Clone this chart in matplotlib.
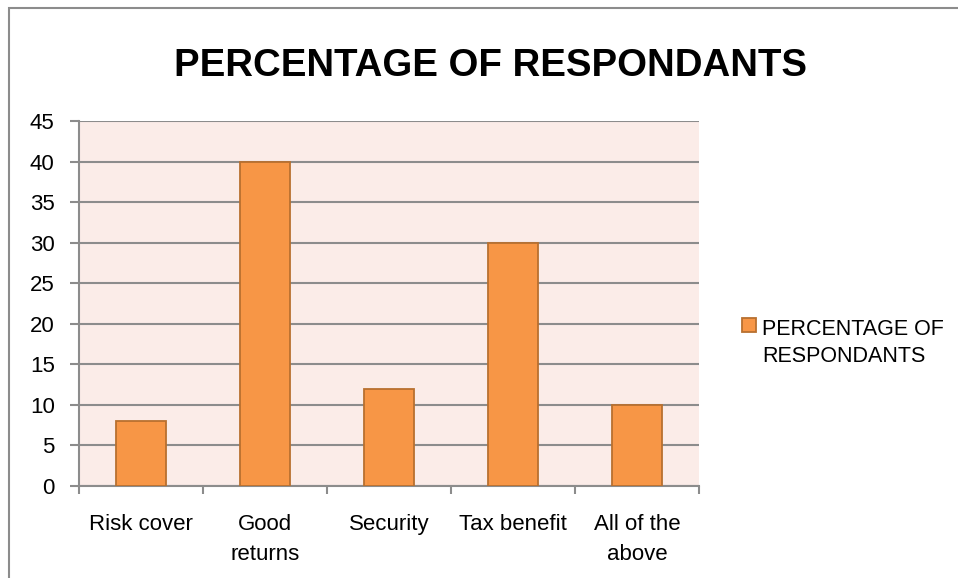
import matplotlib
matplotlib.use("Agg")
import matplotlib.pyplot as plt
from matplotlib.patches import Rectangle, Patch
from matplotlib.legend_handler import HandlerPatch

categories = ["Risk cover", "Good\nreturns", "Security", "Tax benefit", "All of the\nabove"]
values = [8, 40, 12, 30, 10]
series_name = "PERCENTAGE OF\nRESPONDANTS"
title = "PERCENTAGE OF RESPONDANTS"
yticks = [0, 5, 10, 15, 20, 25, 30, 35, 40, 45]

W, H = 958, 578
fig = plt.figure(figsize=(W / 100, H / 100), dpi=100)
fig.patch.set_facecolor("white")

font = "Liberation Sans"
grid_c = "#8c8c8c"
bar_c = "#F79646"
edge_c = "#B8702F"
bg_c = "#FBECE8"

# outer chart frame
fig.patches.append(Rectangle((9 / W, -0.01), 2, 1 - 8 / H + 0.01, transform=fig.transFigure,
                             fill=False, edgecolor="#8c8c8c", linewidth=1.5))

ax = fig.add_axes([79 / W, (H - 486) / H, 620 / W, 365 / H])
ax.set_facecolor(bg_c)
x = range(len(categories))
ax.bar(x, values, width=0.4, color=bar_c, edgecolor=edge_c, linewidth=1.3, zorder=3)

ax.set_xlim(-0.5, len(categories) - 0.5)
ax.set_ylim(0, 45)
ax.set_yticks(yticks)
ax.set_yticklabels([str(v) for v in yticks], fontsize=16, fontfamily=font)
ax.yaxis.grid(True, color=grid_c, linewidth=1.5, zorder=1)
ax.set_axisbelow(True)

ax.set_xticks(list(x))
ax.set_xticklabels(categories, fontsize=16, fontfamily=font, linespacing=1.55)
ax.set_xticks([i - 0.5 for i in range(len(categories) + 1)], minor=True)
ax.tick_params(axis="x", which="major", length=0, pad=20)
ax.tick_params(axis="x", which="minor", length=6, width=1.5, color=grid_c)
ax.tick_params(axis="y", length=6.5, width=1.5, color=grid_c, pad=11)

for s in ["top", "right"]:
    ax.spines[s].set_visible(False)
for s in ["left", "bottom"]:
    ax.spines[s].set_color(grid_c)
    ax.spines[s].set_linewidth(1.5)

fig.text(490 / W, 1 - 66 / H, title, ha="center", va="center",
         fontsize=27.6, fontweight="bold", fontfamily=font)


def first_line_square(legend, orig_handle, xdescent, ydescent, width, height, fontsize):
    # keep the swatch level with the first line of a two-line label
    return Rectangle((-xdescent, -ydescent + 13.5), width, height)


handle = Patch(facecolor=bar_c, edgecolor=edge_c, linewidth=1.3)
leg = fig.legend([handle], [series_name], loc="center left", bbox_to_anchor=(742 / W, 1 - 343 / H),
                 frameon=False, prop={"family": font, "size": 15.5}, handlelength=0.65,
                 handleheight=0.65, handletextpad=0.3, borderaxespad=0, borderpad=0,
                 labelspacing=0, handler_map={Patch: HandlerPatch(patch_func=first_line_square)})
for t in leg.get_texts():
    t.set_linespacing(1.35)

fig.savefig("out.png", dpi=100)
